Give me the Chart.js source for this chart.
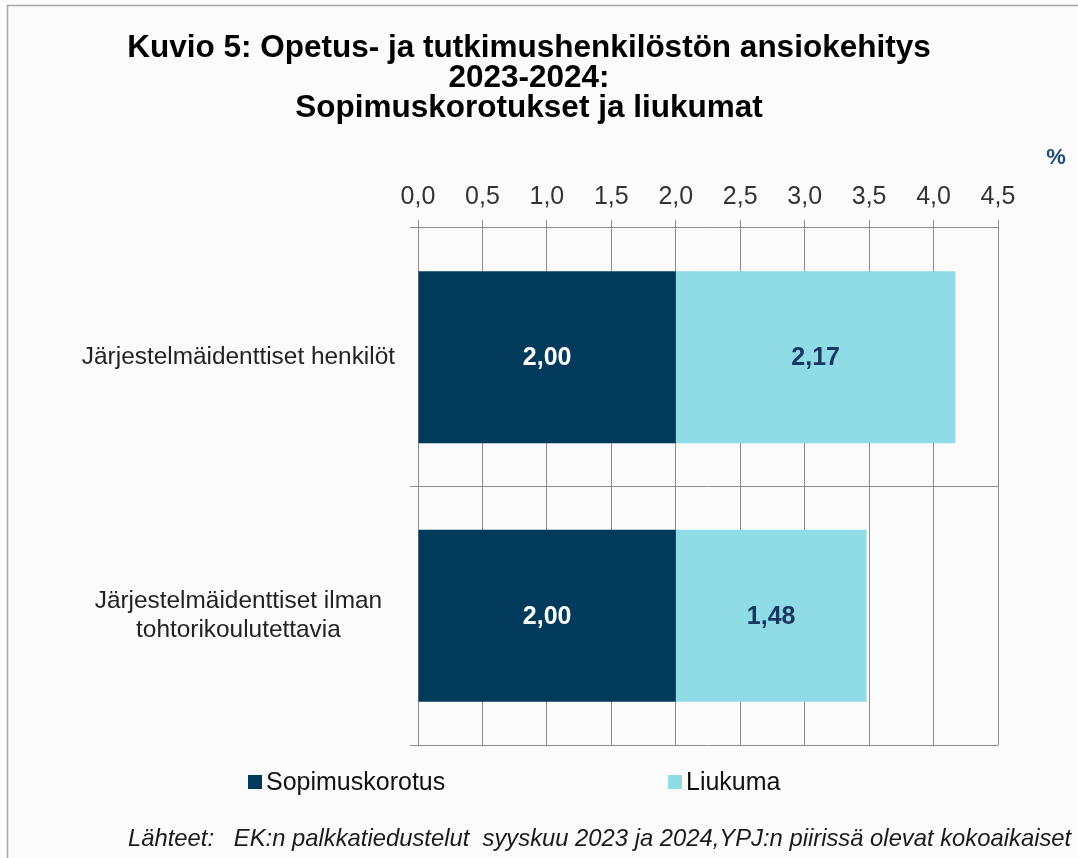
<!DOCTYPE html>
<html><head><meta charset="utf-8">
<script src="https://cdn.jsdelivr.net/npm/chart.js@4.4.1/dist/chart.umd.min.js"></script>
<style>html,body{margin:0;padding:0;background:#fbfbfb;}canvas{display:block;}</style>
</head><body>
<canvas id="c" width="1078" height="858"></canvas>
<script>
// ---- data ----
const categories = ['Järjestelmäidenttiset henkilöt', ['Järjestelmäidenttiset ilman', 'tohtorikoulutettavia']];
const seriesNames = ['Sopimuskorotus', 'Liukuma'];
const sopimuskorotus = [2.00, 2.00];
const liukuma = [2.17, 1.48];
const xTickLabels = ['0,0', '0,5', '1,0', '1,5', '2,0', '2,5', '3,0', '3,5', '4,0', '4,5'];
const titleLines = ['Kuvio 5: Opetus- ja tutkimushenkilöstön ansiokehitys', '2023-2024:', 'Sopimuskorotukset ja liukumat'];
const unitLabel = '%';
const footerText = 'Lähteet:   EK:n palkkatiedustelut  syyskuu 2023 ja 2024,YPJ:n piirissä olevat kokoaikaiset';

// ---- styles ----
const FONT = "'Liberation Sans', Arial, sans-serif";
const colors = ['#023a5c', '#8fdce6'];
const labelColors = ['#ffffff', '#17375e'];
const gridColor = '#8c8c8c';

Chart.defaults.font.family = FONT;

const decoPlugin = {
  id: 'deco',
  beforeDraw(chart) {
    const ctx = chart.ctx;
    ctx.save();
    ctx.fillStyle = '#fbfbfb';
    ctx.fillRect(0, 0, chart.width, chart.height);
    ctx.strokeStyle = '#a8a8a8';
    ctx.lineWidth = 1.5;
    ctx.strokeRect(7.5, 5.5, chart.width + 20, chart.height + 20);
    ctx.restore();
  },
  afterDatasetsDraw(chart) {
    const ctx = chart.ctx;
    ctx.save();
    ctx.font = "bold 25px " + FONT;
    ctx.textAlign = 'center';
    ctx.textBaseline = 'middle';
    chart.data.datasets.forEach((ds, di) => {
      const meta = chart.getDatasetMeta(di);
      meta.data.forEach((el, i) => {
        const p = el.getCenterPoint();
        ctx.fillStyle = labelColors[di];
        ctx.fillText(ds.data[i].toFixed(2).replace('.', ','), p.x, p.y + 1);
      });
    });
    ctx.restore();
  },
  afterDraw(chart) {
    const ctx = chart.ctx;
    ctx.save();
    // unit
    ctx.font = "bold 22px " + FONT;
    ctx.fillStyle = '#1f4e79';
    ctx.textAlign = 'center';
    ctx.textBaseline = 'middle';
    ctx.fillText(unitLabel, 1056, 158);
    // legend
    ctx.font = "25px " + FONT;
    ctx.textAlign = 'left';
    const legendX = [248, 668];
    chart.data.datasets.forEach((ds, di) => {
      ctx.fillStyle = ds.backgroundColor;
      ctx.fillRect(legendX[di], 775, 14, 14);
      ctx.fillStyle = '#111111';
      ctx.fillText(ds.label, legendX[di] + 18, 783);
    });
    // footer
    ctx.font = "italic 23.8px " + FONT;
    ctx.fillStyle = '#1a1a1a';
    ctx.fillText(footerText, 128, 839);
    ctx.restore();
  }
};

new Chart(document.getElementById('c'), {
  type: 'bar',
  data: {
    labels: categories,
    datasets: [
      { label: seriesNames[0], data: sopimuskorotus, backgroundColor: colors[0], borderWidth: 0, barPercentage: 0.665, categoryPercentage: 1.0 },
      { label: seriesNames[1], data: liukuma, backgroundColor: colors[1], borderWidth: 0, barPercentage: 0.665, categoryPercentage: 1.0 }
    ]
  },
  options: {
    indexAxis: 'y',
    responsive: false,
    animation: false,
    devicePixelRatio: 1,
    layout: { padding: { top: 0, left: 60, right: 80, bottom: 113 } },
    plugins: {
      legend: { display: false },
      tooltip: { enabled: false },
      title: {
        display: true,
        text: titleLines,
        color: '#000000',
        font: { size: 31.5, weight: 'bold', lineHeight: 0.952 },
        padding: { top: 33, bottom: 0 }
      }
    },
    scales: {
      x: {
        position: 'top',
        stacked: true,
        min: 0,
        max: 4.5,
        ticks: {
          stepSize: 0.5,
          padding: 8,
          color: '#333333',
          font: { size: 25 },
          callback: (v, i) => xTickLabels[i]
        },
        grid: { color: gridColor, lineWidth: 1, tickLength: 8 },
        border: { color: gridColor, width: 1 },
        afterFit: (s) => { s.height = 105; }
      },
      y: {
        stacked: true,
        ticks: {
          crossAlign: 'center',
          padding: 15,
          color: '#222222',
          font: { size: 24.4, lineHeight: 1.2 }
        },
        grid: { offset: true, color: gridColor, lineWidth: 1, tickLength: 8 },
        border: { color: gridColor, width: 1 },
        afterFit: (s) => { s.width = 358; }
      }
    }
  },
  plugins: [decoPlugin]
});
</script>
</body></html>
